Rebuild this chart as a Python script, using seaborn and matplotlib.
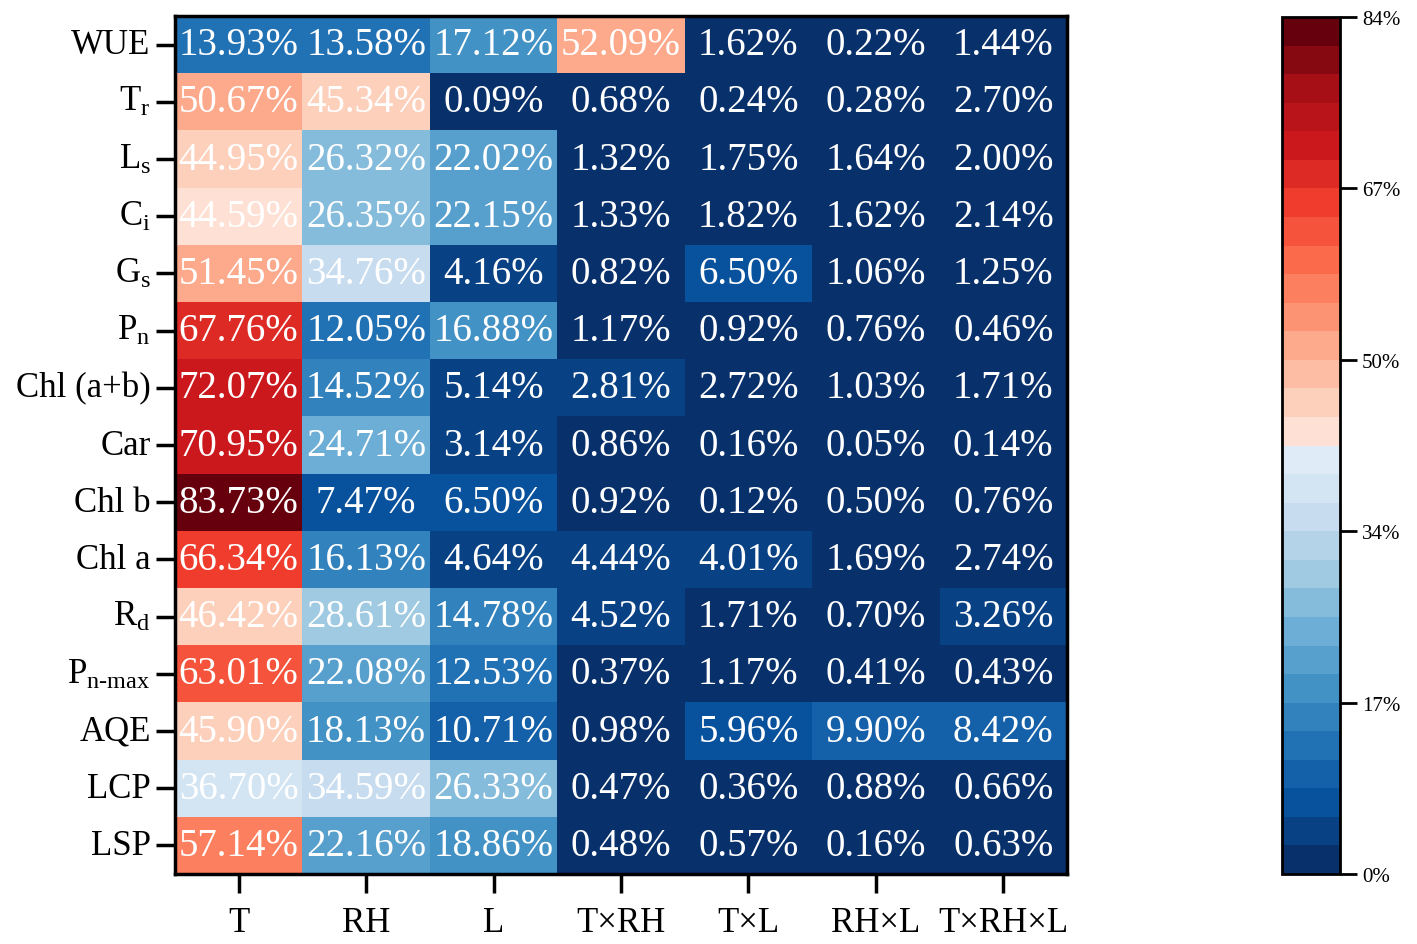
import numpy as np
import pandas as pd
import matplotlib
matplotlib.use("Agg")
import matplotlib.pyplot as plt
from matplotlib.colors import ListedColormap
import seaborn as sns

# row / column labels
traits = [r"WUE", r"T$_\mathregular{r}$", r"L$_\mathregular{s}$", r"C$_\mathregular{i}$",
          r"G$_\mathregular{s}$", r"P$_\mathregular{n}$", "Chl (a+b)", "Car", "Chl b", "Chl a",
          r"R$_\mathregular{d}$", r"P$_\mathregular{n\text{-}max}$", "AQE", "LCP", "LSP"]
factors = ["T", "RH", "L", "T×RH", "T×L", "RH×L", "T×RH×L"]

# contribution (%) of each factor, one list per factor
T = [13.93, 50.67, 44.95, 44.59, 51.45, 67.76, 72.07, 70.95, 83.73, 66.34, 46.42, 63.01, 45.90, 36.70, 57.14]
RH = [13.58, 45.34, 26.32, 26.35, 34.76, 12.05, 14.52, 24.71, 7.47, 16.13, 28.61, 22.08, 18.13, 34.59, 22.16]
L = [17.12, 0.09, 22.02, 22.15, 4.16, 16.88, 5.14, 3.14, 6.50, 4.64, 14.78, 12.53, 10.71, 26.33, 18.86]
T_RH = [52.09, 0.68, 1.32, 1.33, 0.82, 1.17, 2.81, 0.86, 0.92, 4.44, 4.52, 0.37, 0.98, 0.47, 0.48]
T_L = [1.62, 0.24, 1.75, 1.82, 6.50, 0.92, 2.72, 0.16, 0.12, 4.01, 1.71, 1.17, 5.96, 0.36, 0.57]
RH_L = [0.22, 0.28, 1.64, 1.62, 1.06, 0.76, 1.03, 0.05, 0.50, 1.69, 0.70, 0.41, 9.90, 0.88, 0.16]
T_RH_L = [1.44, 2.70, 2.00, 2.14, 1.25, 0.46, 1.71, 0.14, 0.76, 2.74, 3.26, 0.43, 8.42, 0.66, 0.63]

df = pd.DataFrame({"T": T, "RH": RH, "L": L, "T×RH": T_RH, "T×L": T_L,
                   "RH×L": RH_L, "T×RH×L": T_RH_L}, index=traits)
labels = df.apply(lambda c: c.map(lambda v: f"{v:.2f}%"))

plt.rcParams["font.family"] = ["Liberation Serif", "DejaVu Serif"]
plt.rcParams["mathtext.fontset"] = "custom"
plt.rcParams["mathtext.rm"] = "Liberation Serif"
plt.rcParams["mathtext.it"] = "Liberation Serif"

# blues below the middle, reds above, 15 steps each
blues = plt.get_cmap("Blues")(np.linspace(1.0, 0.12, 15))
reds = plt.get_cmap("Reds")(np.linspace(0.12, 1.0, 15))
cmap = ListedColormap(np.vstack([blues, reds]))

fig = plt.figure(figsize=(14.17, 9.45), dpi=100)
ax = fig.add_axes([0.1235, 0.074, 0.6295, 0.908])
cax = fig.add_axes([0.905, 0.074, 0.041, 0.907])

sns.heatmap(df, ax=ax, cbar_ax=cax, cmap=cmap, vmin=0, vmax=84,
            annot=labels.values, fmt="", annot_kws={"size": 28, "color": "white"})

ax.tick_params(axis="both", length=14, width=2.5, labelsize=25, color="black")
ax.set_yticklabels(traits, rotation=0)
ax.set_xticklabels(factors, rotation=0)
ax.tick_params(axis="x", pad=9)
for s in ax.spines.values():
    s.set_visible(True)
    s.set_linewidth(2.5)

ticks = np.linspace(0, 84, 6)
cbar = ax.collections[0].colorbar
cbar.set_ticks(ticks)
cbar.set_ticklabels([f"{t:.0f}%" for t in ticks])
cbar.ax.tick_params(length=12, width=2, labelsize=15)
cbar.outline.set_visible(True)
cbar.outline.set_linewidth(2)
cbar.outline.set_edgecolor("black")

fig.savefig("out.png", dpi=100)
